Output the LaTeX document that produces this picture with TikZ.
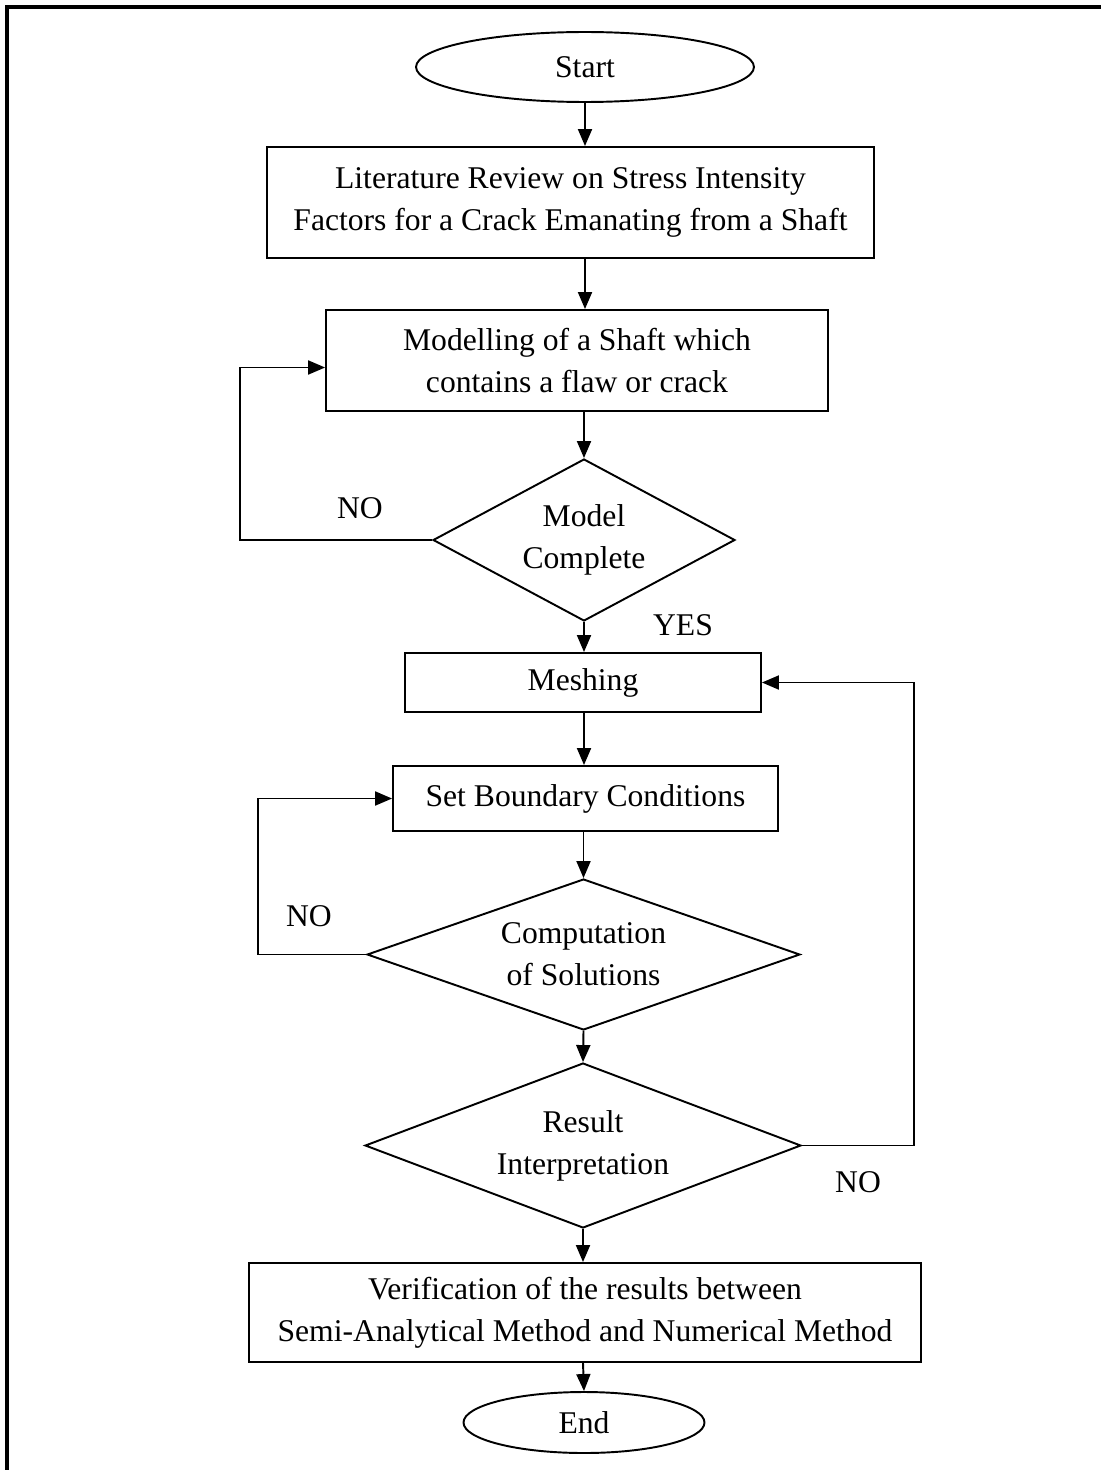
\documentclass[tikz,border=0pt]{standalone}
\usepackage{fontspec}
\setmainfont{Liberation Serif}
\usepackage{tikz}
\usetikzlibrary{arrows.meta}
\usetikzlibrary{shapes.geometric}

\begin{document}
\begin{tikzpicture}[x=0.02cm,y=-0.02cm,line width=1.1pt,
		font=\fontsize{18}{24}\selectfont,
		box/.style={draw,rectangle,align=center,inner sep=0pt},
		term/.style={draw,ellipse,inner sep=0pt},
		dec/.style={draw,diamond,align=center,inner sep=0pt},
		arr/.style={-{Triangle[length=0.34cm,width=0.28cm]}}]
		\useasboundingbox (0,0) rectangle (1101,1470);
		% frame
		\draw[line width=2.2pt] (7,1470) -- (7,7) -- (1101,7);
		% nodes
		\node[term,minimum width=6.76cm,minimum height=1.4cm] (start) at (585,67) {Start};
		\node[box,minimum width=12.14cm,minimum height=2.22cm] (lit) at (570.5,202.5)
		{Literature Review on Stress Intensity\\Factors for a Crack Emanating from a Shaft};
		\node[box,minimum width=10.04cm,minimum height=2.02cm] (mod) at (577,360.5)
		{Modelling of a Shaft which\\contains a flaw or crack};
		\node[dec,shape aspect=1.86,minimum width=6.04cm,minimum height=3.24cm] (chk) at (584,540) {Model\\Complete};
		\node[box,minimum width=7.12cm,minimum height=1.18cm] (mesh) at (583,682.5) {Meshing};
		\node[box,minimum width=7.7cm,minimum height=1.3cm] (bc) at (585.5,798.5) {Set Boundary Conditions};
		\node[dec,shape aspect=2.87,minimum width=8.66cm,minimum height=3.02cm] (comp) at (583.5,954.5) {Computation\\of Solutions};
		\node[dec,shape aspect=2.64,minimum width=8.72cm,minimum height=3.3cm] (res) at (583,1145.5) {Result\\Interpretation};
		\node[box,minimum width=13.44cm,minimum height=1.98cm] (ver) at (585,1312.5)
		{Verification of the results between\\Semi-Analytical Method and Numerical Method};
		\node[term,minimum width=4.82cm,minimum height=1.22cm] (end) at (584,1422.5) {End};
		% labels
		\node (no1) at (360,508) {NO};
		\node (yes1) at (683,625) {YES};
		\node (no2) at (309,916) {NO};
		\node (no3) at (858,1182) {NO};
		% connectors
		\draw[arr] (start.south) -- (start.south |- lit.north);
		\draw[arr] (start.south |- lit.south) -- (start.south |- mod.north);
		\draw[arr] (chk.north |- mod.south) -- (chk.north);
		\draw[arr] (chk.south) -- (chk.south |- mesh.north);
		\draw[arr] (chk.south |- mesh.south) -- (chk.south |- bc.north);
		\draw[arr] (comp.north |- bc.south) -- (comp.north);
		\draw[arr] (comp.south) -- (res.north);
		\draw[arr] (res.south) -- (res.south |- ver.north);
		\draw[arr] (res.south |- ver.south) -- (end.north);
		% loops
		\draw[arr] (chk.west) -- ++(-192,0) |- ([yshift=-0.14cm]mod.west);
		\draw[arr] (comp.west) -- ++(-108,0) |- (bc.west);
		\draw[arr] (res.east) -- ++(112,0) |- (mesh.east);
\end{tikzpicture}
\end{document}
